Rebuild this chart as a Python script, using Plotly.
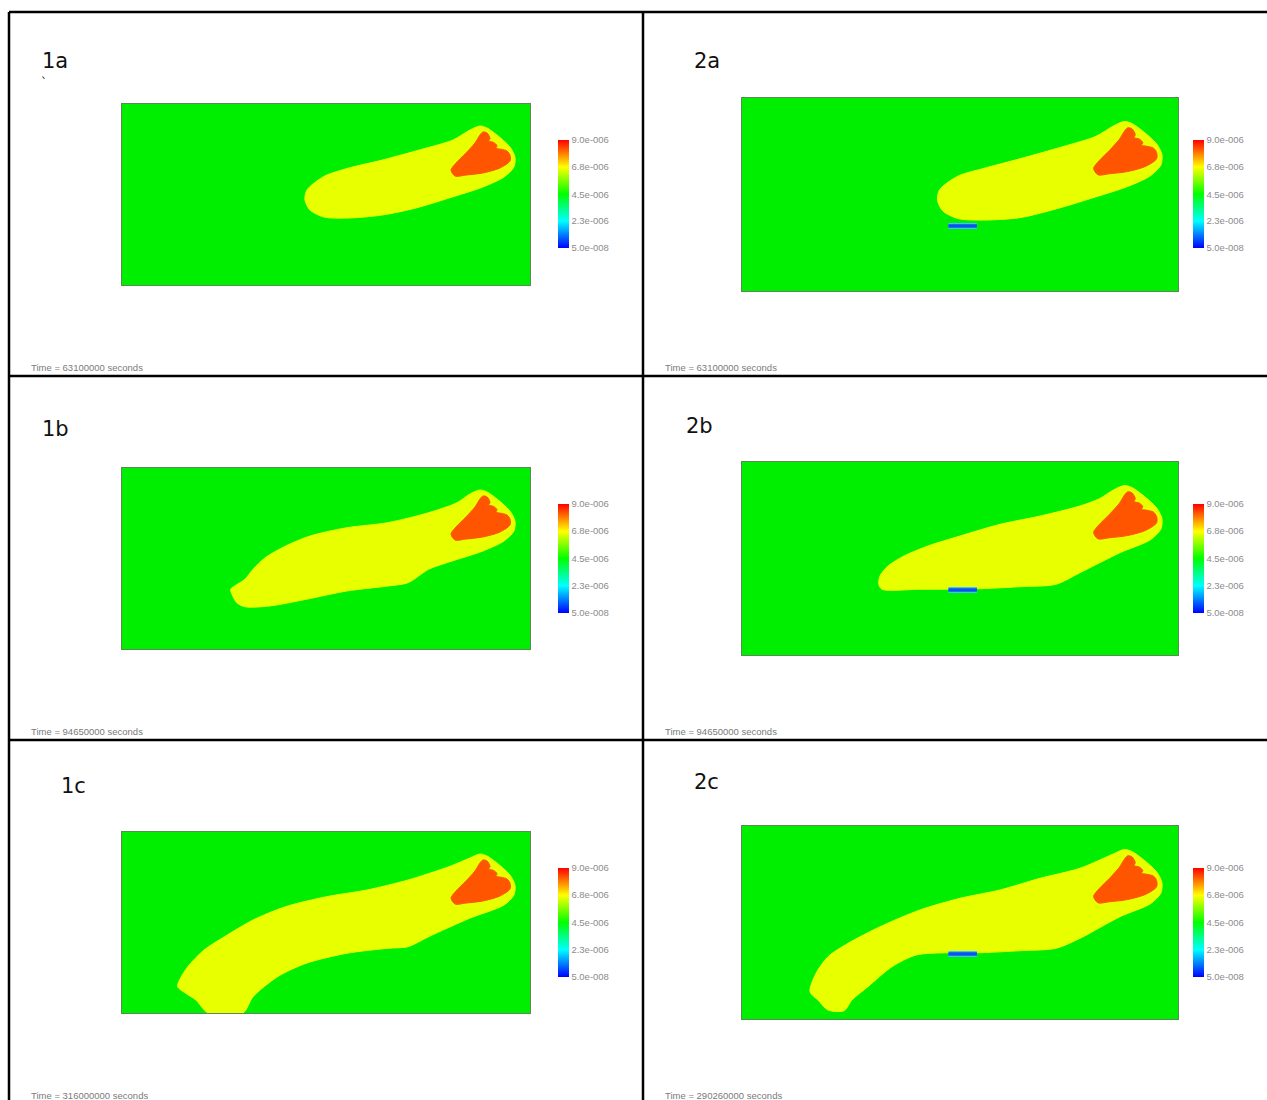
import plotly.graph_objects as go

W, H = 1267, 1100

# ---------------- data (model units: x 0..450, y 0..200) ----------------
DOMAIN_X = [0, 450]
DOMAIN_Y = [0, 200]

CBAR_VALUES = [9.0e-6, 6.8e-6, 4.5e-6, 2.3e-6, 5.0e-8]
CBAR_LABELS = ["9.0e-006", "6.8e-006", "4.5e-006", "2.3e-006", "5.0e-008"]
CBAR_MIN, CBAR_MAX = 5.0e-8, 9.0e-6

PANEL_NAMES = ["1a", "2a", "1b", "2b", "1c", "2c"]
TIMES = ["Time = 63100000 seconds", "Time = 63100000 seconds",
         "Time = 94650000 seconds", "Time = 94650000 seconds",
         "Time = 316000000 seconds", "Time = 290260000 seconds"]

# source (orange, high concentration) region - same in all panels
ORANGE_X = [362.9, 368.4, 379.4, 389.3, 394.8, 398.1, 402.6, 405.9, 404.5, 410.0, 413.6,
            412.5, 418.0, 424.6, 427.9, 427.9, 416.9, 398.1, 379.4, 367.3, 362.9]
ORANGE_Y = [127.1, 134.8, 145.9, 156.9, 165.7, 169.1, 168.0, 162.0, 159.0, 157.5, 154.0,
            151.0, 150.0, 148.1, 143.6, 137.0, 129.3, 123.8, 121.5, 120.4, 127.1]

# plume (yellow) outlines
PLUME_1A_X = [204.0, 222.8, 249.3, 286.8, 330.9, 365.1, 383.8, 394.8, 402.6, 413.6, 427.9, 433.4,
              432.3, 421.3, 398.1, 360.6, 324.3, 286.8, 249.3, 222.8, 207.3, 201.8, 204.0]
PLUME_1A_Y = [105.0, 120.0, 129.0, 138.0, 150.0, 160.2, 171.3, 175.7, 173.5, 165.7, 152.5, 141.4,
              130.4, 119.3, 108.3, 96.1, 85.1, 77.3, 74.0, 75.1, 82.9, 93.9, 105.0]

PLUME_2A_X = [204.0, 222.8, 249.3, 286.8, 330.9, 365.1, 383.8, 394.8, 402.6, 413.6, 427.9, 433.4,
              432.3, 421.3, 398.1, 360.6, 324.3, 286.8, 249.3, 222.8, 207.3, 201.8, 204.0]
PLUME_2A_Y = [105.0, 119.0, 127.0, 137.0, 149.5, 160.2, 171.3, 175.7, 173.5, 165.7, 152.5, 141.4,
              130.4, 119.3, 108.3, 96.1, 85.1, 76.0, 73.5, 75.1, 82.9, 93.9, 105.0]

PLUME_1B_X = [119.8, 124.3, 135.5, 144.5, 158.0, 180.5, 207.6, 248.0, 293.2, 338.2, 369.6,
              383.8, 394.8, 402.6, 413.6, 427.9, 433.4, 432.3, 421.3, 398.1, 360.6, 338.2,
              315.6, 293.2, 248.0, 203.0, 162.6, 135.5, 126.5, 122.1, 119.8]
PLUME_1B_Y = [66.0, 69.6, 77.0, 88.1, 100.9, 113.8, 124.9, 134.0, 139.6, 150.6, 161.7,
              171.3, 175.7, 173.5, 165.7, 152.5, 141.4, 130.4, 119.3, 108.3, 96.1, 88.1,
              73.3, 69.6, 64.1, 54.9, 47.5, 46.7, 51.2, 58.6, 66.0]

PLUME_2B_X = [144.5, 141.2, 142.4, 150.7, 167.2, 192.0, 225.0, 266.3, 307.6, 348.8, 369.0,
              383.8, 394.8, 402.6, 413.6, 427.9, 433.4, 432.3, 421.3, 390.1, 348.8, 324.1,
              286.9, 245.6, 183.7, 144.5]
PLUME_2B_Y = [68.1, 73.3, 81.9, 92.2, 102.6, 113.0, 123.3, 135.4, 144.0, 154.4, 162.0,
              171.3, 175.7, 173.5, 165.7, 152.5, 141.4, 130.4, 119.3, 106.0, 85.3, 73.3,
              70.8, 68.7, 68.1, 68.1]

PLUME_1C_X = [95.1, 81.5, 70.3, 61.3, 63.5, 72.6, 90.5, 113.0, 144.6, 180.5, 225.5, 270.5,
              315.6, 360.6, 383.8, 394.8, 402.6, 413.6, 427.9, 433.4, 432.3, 421.3, 383.2,
              338.2, 315.6, 293.2, 248.0, 203.0, 171.6, 144.6, 133.3, 95.1]
PLUME_1C_Y = [0.0, 14.4, 21.8, 29.1, 36.5, 51.2, 69.6, 84.3, 102.8, 117.5, 128.5, 136.0,
              147.0, 161.7, 171.3, 175.7, 173.5, 165.7, 152.5, 141.4, 130.4, 119.3, 104.6,
              84.3, 73.3, 71.5, 66.0, 54.9, 40.1, 18.0, 0.0, 0.0]

PLUME_2C_X = [88.8, 78.4, 70.2, 76.4, 88.8, 109.4, 142.4, 183.7, 225.0, 266.3, 307.6, 348.8,
              383.8, 394.8, 402.6, 413.6, 427.9, 433.4, 432.3, 421.3, 390.1, 348.8, 324.1,
              286.9, 245.6, 212.6, 179.6, 154.8, 130.0, 113.5, 105.3, 88.8]
PLUME_2C_Y = [9.3, 19.7, 28.3, 47.4, 64.6, 78.4, 95.6, 113.0, 125.1, 133.7, 145.8, 156.2,
              171.3, 175.7, 173.5, 165.7, 152.5, 141.4, 130.4, 119.3, 106.0, 83.6, 73.3,
              70.8, 68.7, 68.7, 66.3, 54.2, 33.5, 19.7, 8.6, 9.3]

PLUMES = [(PLUME_1A_X, PLUME_1A_Y), (PLUME_2A_X, PLUME_2A_Y),
          (PLUME_1B_X, PLUME_1B_Y), (PLUME_2B_X, PLUME_2B_Y),
          (PLUME_1C_X, PLUME_1C_Y), (PLUME_2C_X, PLUME_2C_Y)]

# low-concentration barrier (blue) in scenario 2
BARRIER_X = [213.0, 242.5]
BARRIER_Y = [67.4, 67.4]
HAS_BARRIER = [False, True, False, True, False, True]

# ---------------- styling / layout (pixels) ----------------
GREEN = "#00ee00"
YELLOW = "#e8ff00"
ORANGE = "#ff5500"
JET = [[0, "#0000ff"], [0.25, "#00ffff"], [0.5, "#00ff00"], [0.75, "#ffff00"], [1, "#ff0000"]]

# rect (x0, x1, ytop, ybottom), colorbar (x, ytop, len), label (x, y), time (x, y)
PANELS = [
    dict(rect=(122, 530, 104, 285), cbar=(558, 140, 108), label=(40, 61), time=(29, 368)),
    dict(rect=(742, 1178, 98, 291), cbar=(1193, 140, 108), label=(692, 61), time=(663, 368)),
    dict(rect=(122, 530, 468, 649), cbar=(558, 504, 109), label=(40, 429), time=(29, 731)),
    dict(rect=(742, 1178, 462, 655), cbar=(1193, 504, 109), label=(684, 426), time=(663, 731)),
    dict(rect=(122, 530, 832, 1013), cbar=(558, 868, 109), label=(59, 786), time=(29, 1095)),
    dict(rect=(742, 1178, 826, 1019), cbar=(1193, 868, 109), label=(692, 782), time=(663, 1095)),
]


def px(x):
    return x / W


def py(y):
    return 1 - y / H


fig = go.Figure()
layout = dict(width=W, height=H, margin=dict(l=0, r=0, t=0, b=0),
              paper_bgcolor="white", plot_bgcolor=GREEN, showlegend=False)
annotations = []
shapes = []

for i, p in enumerate(PANELS):
    n = "" if i == 0 else str(i + 1)
    xa, ya = "x" + n, "y" + n
    x0, x1, yt, yb = p["rect"]
    axis_common = dict(showgrid=False, zeroline=False, showticklabels=False, ticks="",
                       showline=True, mirror=True, linecolor="#5a8a5a", linewidth=1,
                       fixedrange=True)
    layout["xaxis" + n] = dict(domain=[px(x0), px(x1)], range=DOMAIN_X, anchor=ya, **axis_common)
    layout["yaxis" + n] = dict(domain=[py(yb), py(yt)], range=DOMAIN_Y, anchor=xa, **axis_common)

    pxs, pys = PLUMES[i]
    fig.add_trace(go.Scatter(x=pxs, y=pys, xaxis=xa, yaxis=ya, mode="lines", fill="toself",
                             fillcolor=YELLOW,
                             line=dict(color=YELLOW, width=1, shape="spline", smoothing=0.8),
                             hoverinfo="skip"))
    fig.add_trace(go.Scatter(x=ORANGE_X, y=ORANGE_Y, xaxis=xa, yaxis=ya, mode="lines", fill="toself",
                             fillcolor=ORANGE,
                             line=dict(color=ORANGE, width=1, shape="spline", smoothing=0.8),
                             hoverinfo="skip"))
    if HAS_BARRIER[i]:
        fig.add_trace(go.Scatter(x=BARRIER_X, y=BARRIER_Y, xaxis=xa, yaxis=ya, mode="lines",
                                 line=dict(color="#3fc4ff", width=6), hoverinfo="skip"))
        fig.add_trace(go.Scatter(x=BARRIER_X, y=BARRIER_Y, xaxis=xa, yaxis=ya, mode="lines",
                                 line=dict(color="#0a55e8", width=3.5), hoverinfo="skip"))

    # colorbar through its own coloraxis
    cx, cy, cl = p["cbar"]
    layout["coloraxis" + n] = dict(
        cmin=CBAR_MIN, cmax=CBAR_MAX, colorscale=JET,
        colorbar=dict(x=px(cx), xanchor="left", y=py(cy), yanchor="top",
                      len=cl, lenmode="pixels", thickness=11, thicknessmode="pixels",
                      xpad=0, ypad=0, outlinewidth=0, ticks="",
                      tickvals=CBAR_VALUES, ticktext=CBAR_LABELS,
                      tickfont=dict(size=9.5, color="#8c8c8c", family="Liberation Sans")))
    fig.add_trace(go.Scatter(x=[DOMAIN_X[0]], y=[DOMAIN_Y[0]], xaxis=xa, yaxis=ya, mode="markers",
                             marker=dict(color=[CBAR_MIN], coloraxis="coloraxis" + n,
                                         size=1, opacity=0),
                             hoverinfo="skip"))

    lx, ly = p["label"]
    annotations.append(dict(x=px(lx), y=py(ly), xref="paper", yref="paper", text=PANEL_NAMES[i],
                            showarrow=False, xanchor="left", yanchor="middle",
                            font=dict(family="DejaVu Sans", size=21, color="#111111")))
    tx, ty = p["time"]
    annotations.append(dict(x=px(tx), y=py(ty), xref="paper", yref="paper", text=TIMES[i],
                            showarrow=False, xanchor="left", yanchor="middle",
                            font=dict(family="Liberation Sans", size=9.5, color="#7a7a7a")))

annotations.append(dict(x=px(39), y=py(83), xref="paper", yref="paper", text="`",
                        showarrow=False, xanchor="left", yanchor="middle",
                        font=dict(family="DejaVu Sans", size=12, color="#222222")))

# table grid lines
line_style = dict(color="black", width=2.5)
for (ax0, ay0, ax1, ay1) in [(9, 12, 9, 1100), (643, 12, 643, 1100),
                             (9, 12, 1267, 12), (9, 376, 1267, 376), (9, 740, 1267, 740)]:
    shapes.append(dict(type="line", xref="paper", yref="paper",
                       x0=px(ax0), y0=py(ay0), x1=px(ax1), y1=py(ay1), line=line_style))

layout["annotations"] = annotations
layout["shapes"] = shapes
fig.update_layout(**layout)

fig.write_html("out.html", config={"displayModeBar": False},
               post_script="document.body.style.margin='0';document.body.style.overflow='hidden';")
